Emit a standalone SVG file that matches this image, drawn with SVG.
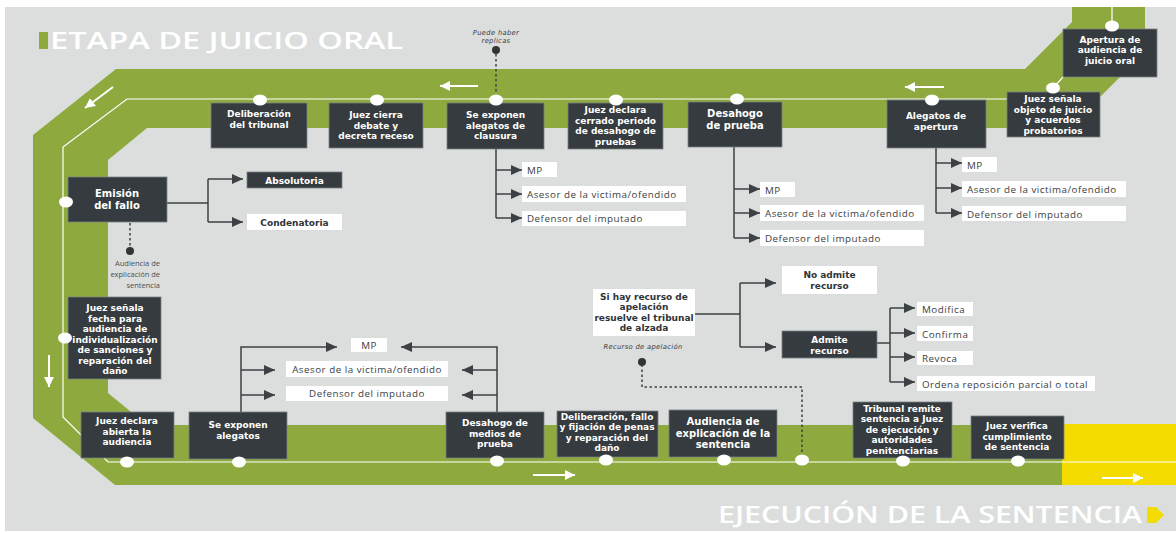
<svg xmlns="http://www.w3.org/2000/svg" width="1176" height="533" viewBox="0 0 1176 533">
  <defs>
    <style>
      .bx { fill:#353b3e; stroke:#7c8285; stroke-width:0.8; }
      .wb { fill:#ffffff; }
      .dot { fill:#ffffff; }
      .nt { font-family:"DejaVu Sans","Liberation Sans",sans-serif; font-weight:700; font-size:9px; fill:#ffffff; text-anchor:middle; }
      .big { font-size:10px; }
      .dk { fill:#2f3437; }
      .lt { font-family:"Open Sans","Liberation Sans",sans-serif; font-weight:400; font-size:9.8px; letter-spacing:0.5px; fill:#3b4043; }
      .mid { text-anchor:middle; }
      .note { font-family:"DejaVu Sans","Liberation Sans",sans-serif; font-style:italic; font-size:6.8px; fill:#3b4043; text-anchor:middle; letter-spacing:0.3px; }
      .small { font-family:"Open Sans","Liberation Sans",sans-serif; font-size:7.5px; fill:#4a4f52; text-anchor:end; }
      .ln { fill:none; stroke:#3b4144; stroke-width:1.5; }
      .ar { fill:none; stroke:#3b4144; stroke-width:1.5; marker-end:url(#ah); }
      .dash { fill:none; stroke:#3b4144; stroke-width:1.5; stroke-dasharray:2.5 2.5; }
      .wa { fill:none; stroke:#ffffff; stroke-width:2; marker-end:url(#wh); }
      .title { font-family:"Open Sans","Liberation Sans",sans-serif; font-weight:600; font-size:23.5px; fill:#ffffff; }
    </style>
    <marker id="ah" viewBox="0 0 11 10" refX="11" refY="5" markerWidth="11" markerHeight="10" markerUnits="userSpaceOnUse" orient="auto">
      <path d="M0,0 L11,5 L0,10 z" fill="#3b4144"/>
    </marker>
    <marker id="wh" viewBox="0 0 10 10" refX="10" refY="5" markerWidth="10" markerHeight="10" markerUnits="userSpaceOnUse" orient="auto">
      <path d="M0,0 L10,5 L0,10 z" fill="#ffffff"/>
    </marker>
  </defs>

  <!-- page and panel -->
  <rect width="1176" height="533" fill="#ffffff"/>
  <rect x="5" y="7" width="1171" height="524" fill="#dcdedd"/>

  <!-- track -->
  <polygon fill="#8eaa3e" points="1072,7 1145,7 1145,52 1069,128 147,128 108,160 108,393 147,425 1062,425 1062,485 115,485 33,418 33,135 116,69 1025,69 1072,22"/>
  <rect x="1062" y="424" width="114" height="61" fill="#f4dc00"/>
  <path d="M1112,7 V26 L1064,76 L1053,88 L1041,99 H127 L63,147 V417 L108,462 H1176" fill="none" stroke="#ffffff" stroke-width="1.2"/>

  <!-- direction arrows -->
  <path class="wa" d="M478,86 H440"/>
  <path class="wa" d="M944,87 H905"/>
  <path class="wa" d="M113,87 L85,108"/>
  <path class="wa" d="M49,355 V387"/>
  <path class="wa" d="M533,475 H575"/>
  <path class="wa" d="M1102,478 H1143"/>

  <!-- headings -->
  <rect x="39" y="32" width="9" height="17" fill="#8eaa3e"/>
  <text class="title" x="50" y="49" textLength="353" lengthAdjust="spacingAndGlyphs">ETAPA DE JUICIO ORAL</text>
  <text class="title" x="718" y="523" textLength="424" lengthAdjust="spacingAndGlyphs">EJECUCIÓN DE LA SENTENCIA</text>
  <polygon points="1147,507 1156,507 1164,515 1156,523 1147,523" fill="#f4dc00"/>

  <!-- connectors -->
  <g id="connectors">
    <path class="ln" d="M167,203 H208 M208,179 V222"/>
    <path class="ar" d="M208,179 H243"/>
    <path class="ar" d="M208,222 H243"/>

    <path class="ln" d="M496,149 V218"/>
    <path class="ar" d="M496,170 H522"/>
    <path class="ar" d="M496,194 H522"/>
    <path class="ar" d="M496,218 H522"/>

    <path class="ln" d="M734,147 V238"/>
    <path class="ar" d="M734,189 H760"/>
    <path class="ar" d="M734,213 H760"/>
    <path class="ar" d="M734,238 H760"/>

    <path class="ln" d="M936,148 V213"/>
    <path class="ar" d="M936,163 H962"/>
    <path class="ar" d="M936,188 H962"/>
    <path class="ar" d="M936,213 H962"/>

    <path class="ar" d="M241,412 V347 H337"/>
    <path class="ar" d="M241,370 H275"/>
    <path class="ar" d="M241,395 H275"/>

    <path class="ar" d="M497,412 V347 H401"/>
    <path class="ar" d="M497,370 H462"/>
    <path class="ar" d="M497,395 H462"/>

    <path class="ln" d="M695,314 H740 M740,283 V347"/>
    <path class="ar" d="M740,283 H776"/>
    <path class="ar" d="M740,347 H776"/>

    <path class="ln" d="M877,343 H890 M890,308 V382"/>
    <path class="ar" d="M890,308 H915"/>
    <path class="ar" d="M890,333 H915"/>
    <path class="ar" d="M890,357 H915"/>
    <path class="ar" d="M890,382 H915"/>

    <path class="dash" d="M496,54 V93"/>
    <circle cx="496" cy="50" r="4" fill="#2f3437"/>
    <path class="dash" d="M130,223 V247"/>
    <circle cx="130" cy="251" r="4" fill="#2f3437"/>
    <path class="dash" d="M802,452 V387 H642 V366"/>
    <circle cx="642" cy="362" r="4" fill="#2f3437"/>
  </g>

  <!-- annotations -->
  <text class="note" x="496" y="35">Puede haber</text>
  <text class="note" x="496" y="42.5">replicas</text>
  <text class="note" x="643" y="349">Recurso de apelación</text>
  <text class="small" x="160" y="266">Audiencia de</text>
  <text class="small" x="160" y="277">explicación de</text>
  <text class="small" x="160" y="288">sentencia</text>

  <!-- upper track steps -->
  <g id="apertura-audiencia">
    <rect class="bx" x="1063" y="29" width="94" height="48"/>
    <ellipse class="dot" cx="1112" cy="26" rx="7" ry="5.5"/>
    <text class="nt" x="1110" y="42.5">Apertura de</text>
    <text class="nt" x="1110" y="53">audiencia de</text>
    <text class="nt" x="1110" y="63.5">juicio oral</text>
  </g>
  <g id="objeto-juicio">
    <rect class="bx" x="1007" y="92" width="93" height="45"/>
    <ellipse class="dot" cx="1053" cy="88" rx="7" ry="5.5"/>
    <text class="nt" x="1053" y="102">Juez señala</text>
    <text class="nt" x="1053" y="112.5">objeto de juicio</text>
    <text class="nt" x="1053" y="123">y acuerdos</text>
    <text class="nt" x="1053" y="133.5">probatorios</text>
  </g>
  <g id="alegatos-apertura">
    <rect class="bx" x="887" y="100" width="99" height="48"/>
    <ellipse class="dot" cx="932" cy="100" rx="7" ry="5.5"/>
    <text class="nt" x="936" y="119">Alegatos de</text>
    <text class="nt" x="936" y="129.5">apertura</text>
  </g>
  <g id="desahogo-prueba">
    <rect class="bx" x="688" y="102" width="94" height="45"/>
    <ellipse class="dot" cx="737" cy="99" rx="7" ry="5.5"/>
    <text class="nt big" x="735" y="117">Desahogo</text>
    <text class="nt big" x="735" y="128.5">de prueba</text>
  </g>
  <g id="cierre-desahogo">
    <rect class="bx" x="568" y="103" width="95" height="46"/>
    <ellipse class="dot" cx="616" cy="100" rx="7" ry="5.5"/>
    <text class="nt" x="615.5" y="113">Juez declara</text>
    <text class="nt" x="615.5" y="123.5">cerrado periodo</text>
    <text class="nt" x="615.5" y="134">de desahogo de</text>
    <text class="nt" x="615.5" y="144.5">pruebas</text>
  </g>
  <g id="alegatos-clausura">
    <rect class="bx" x="447" y="103" width="97" height="46"/>
    <ellipse class="dot" cx="496" cy="100" rx="7" ry="5.5"/>
    <text class="nt" x="495.5" y="118">Se exponen</text>
    <text class="nt" x="495.5" y="128.5">alegatos de</text>
    <text class="nt" x="495.5" y="139">clausura</text>
  </g>
  <g id="cierre-debate">
    <rect class="bx" x="329" y="103" width="94" height="45"/>
    <ellipse class="dot" cx="377" cy="100" rx="7" ry="5.5"/>
    <text class="nt" x="376" y="118">Juez cierra</text>
    <text class="nt" x="376" y="128.5">debate y</text>
    <text class="nt" x="376" y="139">decreta receso</text>
  </g>
  <g id="deliberacion-tribunal">
    <rect class="bx" x="211" y="103" width="96" height="45"/>
    <ellipse class="dot" cx="260" cy="100" rx="7" ry="5.5"/>
    <text class="nt" x="259" y="117">Deliberación</text>
    <text class="nt" x="259" y="127.5">del tribunal</text>
  </g>

  <!-- party lists of the upper steps -->
  <g id="partes-clausura">
    <rect class="wb" x="522" y="162" width="35" height="15"/>
    <text class="lt" x="527" y="173.5">MP</text>
    <rect class="wb" x="522" y="186" width="164" height="16"/>
    <text class="lt" x="527" y="198">Asesor de la victima/ofendido</text>
    <rect class="wb" x="522" y="211" width="164" height="15"/>
    <text class="lt" x="527" y="222">Defensor del imputado</text>
  </g>
  <g id="partes-desahogo">
    <rect class="wb" x="760" y="182" width="35" height="15"/>
    <text class="lt" x="765" y="193.5">MP</text>
    <rect class="wb" x="760" y="205" width="164" height="16"/>
    <text class="lt" x="765" y="217">Asesor de la victima/ofendido</text>
    <rect class="wb" x="760" y="230" width="164" height="16"/>
    <text class="lt" x="765" y="242">Defensor del imputado</text>
  </g>
  <g id="partes-apertura">
    <rect class="wb" x="962" y="157" width="35" height="15"/>
    <text class="lt" x="967" y="168.5">MP</text>
    <rect class="wb" x="962" y="181" width="164" height="16"/>
    <text class="lt" x="967" y="193">Asesor de la victima/ofendido</text>
    <rect class="wb" x="962" y="206" width="164" height="15"/>
    <text class="lt" x="967" y="217.5">Defensor del imputado</text>
  </g>

  <!-- left side -->
  <g id="emision-fallo">
    <rect class="bx" x="68" y="177" width="99" height="45"/>
    <ellipse class="dot" cx="66" cy="202" rx="7" ry="5.5"/>
    <text class="nt big" x="117" y="197">Emisión</text>
    <text class="nt big" x="117" y="208.5">del fallo</text>
  </g>
  <g id="absolutoria">
    <rect class="bx" x="247" y="172" width="95" height="16"/>
    <text class="nt" x="294.5" y="183.5">Absolutoria</text>
  </g>
  <g id="condenatoria">
    <rect class="wb" x="247" y="214" width="95" height="16"/>
    <text class="nt dk" x="294.5" y="225.5">Condenatoria</text>
  </g>
  <g id="fecha-individualizacion">
    <rect class="bx" x="68" y="297" width="93" height="82"/>
    <ellipse class="dot" cx="65" cy="338" rx="7" ry="5.5"/>
    <text class="nt" x="115" y="311">Juez señala</text>
    <text class="nt" x="115" y="321.5">fecha para</text>
    <text class="nt" x="115" y="332">audiencia de</text>
    <text class="nt" x="115" y="342.5">individualización</text>
    <text class="nt" x="115" y="353">de sanciones y</text>
    <text class="nt" x="115" y="363.5">reparación del</text>
    <text class="nt" x="115" y="374">daño</text>
  </g>

  <!-- lower track steps -->
  <g id="apertura-declarada">
    <rect class="bx" x="81" y="412" width="93" height="46"/>
    <ellipse class="dot" cx="127" cy="462" rx="7" ry="5.5"/>
    <text class="nt" x="127" y="424">Juez declara</text>
    <text class="nt" x="127" y="434.5">abierta la</text>
    <text class="nt" x="127" y="445">audiencia</text>
  </g>
  <g id="se-exponen-alegatos">
    <rect class="bx" x="189" y="412" width="98" height="47"/>
    <ellipse class="dot" cx="239" cy="462" rx="7" ry="5.5"/>
    <text class="nt" x="238" y="428">Se exponen</text>
    <text class="nt" x="238" y="438.5">alegatos</text>
  </g>
  <g id="partes-individualizacion">
    <rect class="wb" x="351" y="338" width="36" height="14"/>
    <text class="lt mid" x="369" y="349">MP</text>
    <rect class="wb" x="286" y="361" width="162" height="16"/>
    <text class="lt mid" x="367" y="373">Asesor de la victima/ofendido</text>
    <rect class="wb" x="286" y="386" width="162" height="15"/>
    <text class="lt mid" x="367" y="397">Defensor del imputado</text>
  </g>
  <g id="desahogo-medios">
    <rect class="bx" x="446" y="412" width="98" height="46"/>
    <ellipse class="dot" cx="497" cy="461" rx="7" ry="5.5"/>
    <text class="nt" x="495" y="426">Desahogo de</text>
    <text class="nt" x="495" y="436.5">medios de</text>
    <text class="nt" x="495" y="447">prueba</text>
  </g>
  <g id="fijacion-penas">
    <rect class="bx" x="557" y="411" width="101" height="46"/>
    <ellipse class="dot" cx="606" cy="460" rx="7" ry="5.5"/>
    <text class="nt" x="607" y="419.5">Deliberación, fallo</text>
    <text class="nt" x="607" y="430">y fijación de penas</text>
    <text class="nt" x="607" y="440.5">y reparación del</text>
    <text class="nt" x="607" y="451">daño</text>
  </g>
  <g id="explicacion-sentencia">
    <rect class="bx" x="669" y="410" width="108" height="47"/>
    <ellipse class="dot" cx="724" cy="460" rx="7" ry="5.5"/>
    <text class="nt big" x="723" y="425">Audiencia de</text>
    <text class="nt big" x="723" y="436.5">explicación de la</text>
    <text class="nt big" x="723" y="448">sentencia</text>
  </g>
  <g id="punto-apelacion">
    <ellipse class="dot" cx="802" cy="460" rx="7" ry="5.5"/>
  </g>
  <g id="remision-sentencia">
    <rect class="bx" x="853" y="402" width="99" height="56"/>
    <ellipse class="dot" cx="903" cy="461" rx="7" ry="5.5"/>
    <text class="nt" x="902" y="411.5">Tribunal remite</text>
    <text class="nt" x="902" y="422">sentencia a Juez</text>
    <text class="nt" x="902" y="432.5">de ejecución y</text>
    <text class="nt" x="902" y="443">autoridades</text>
    <text class="nt" x="902" y="453.5">penitenciarias</text>
  </g>
  <g id="verificacion-cumplimiento">
    <rect class="bx" x="971" y="416" width="93" height="43"/>
    <ellipse class="dot" cx="1018" cy="461" rx="7" ry="5.5"/>
    <text class="nt" x="1017" y="429">Juez verifica</text>
    <text class="nt" x="1017" y="439.5">cumplimiento</text>
    <text class="nt" x="1017" y="450">de sentencia</text>
  </g>

  <!-- appeal -->
  <g id="recurso-apelacion">
    <rect class="wb" x="593" y="289" width="102" height="47"/>
    <text class="nt dk" x="644" y="299.5">Si hay recurso de</text>
    <text class="nt dk" x="644" y="310">apelación</text>
    <text class="nt dk" x="644" y="320.5">resuelve el tribunal</text>
    <text class="nt dk" x="644" y="331">de alzada</text>
  </g>
  <g id="no-admite">
    <rect class="wb" x="782" y="266" width="95" height="28"/>
    <text class="nt dk" x="829.5" y="278">No admite</text>
    <text class="nt dk" x="829.5" y="288.5">recurso</text>
  </g>
  <g id="admite">
    <rect class="bx" x="782" y="331" width="95" height="27"/>
    <text class="nt" x="829.5" y="343">Admite</text>
    <text class="nt" x="829.5" y="353.5">recurso</text>
  </g>
  <g id="resoluciones">
    <rect class="wb" x="917" y="302" width="56" height="14"/>
    <text class="lt" x="922" y="313">Modifica</text>
    <rect class="wb" x="917" y="326" width="56" height="15"/>
    <text class="lt" x="922" y="337.5">Confirma</text>
    <rect class="wb" x="917" y="351" width="56" height="14"/>
    <text class="lt" x="922" y="362">Revoca</text>
    <rect class="wb" x="917" y="376" width="178" height="15"/>
    <text class="lt" x="922" y="387.5">Ordena reposición parcial o total</text>
  </g>
</svg>
